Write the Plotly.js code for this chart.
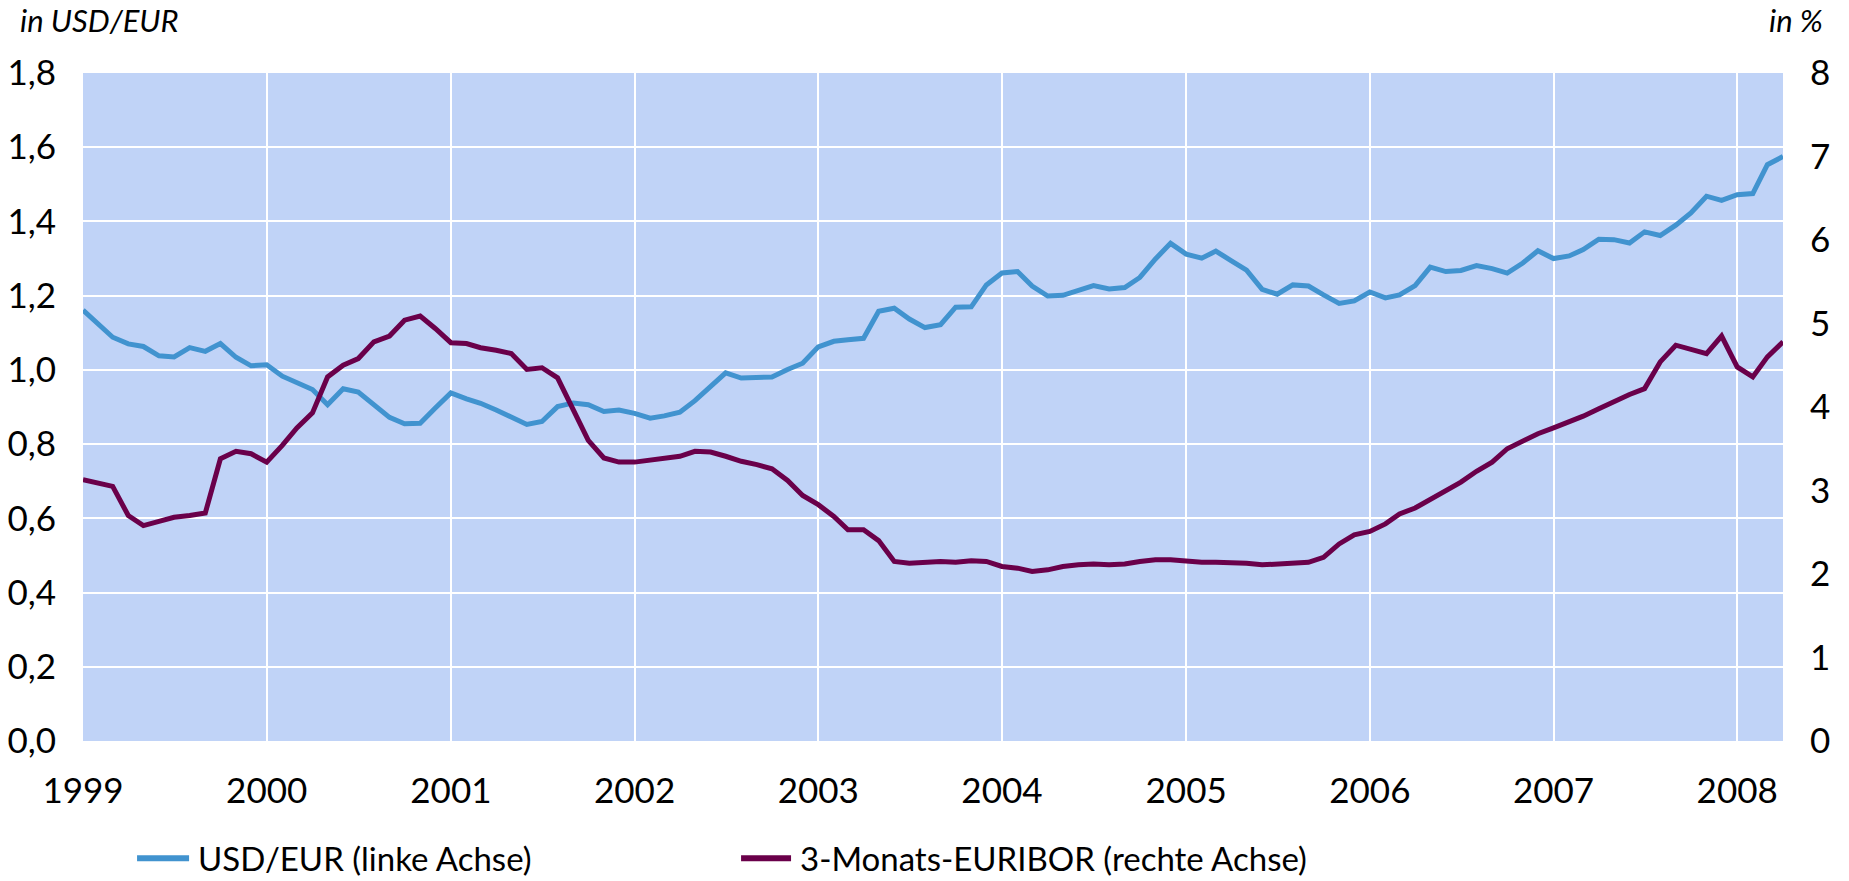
<!DOCTYPE html>
<html>
<head>
<meta charset="utf-8">
<script src="https://cdn.plot.ly/plotly-3.0.1.min.js"></script>
<style>
html,body{margin:0;padding:0;background:#fff;}
#chart{width:1849px;height:881px;}
</style>
</head>
<body>
<div id="chart"></div>
<script>
// Monthly observations, Jan 1999 – Apr 2008
const months = [];
for (let y = 1999; y <= 2008; y++) {
  for (let m = 1; m <= 12; m++) {
    if (y === 2008 && m > 4) break;
    months.push(y + '-' + String(m).padStart(2, '0') + '-01');
  }
}

const usdEur = [
  1.161, 1.121, 1.088, 1.070, 1.063, 1.038, 1.035, 1.060, 1.050, 1.071, 1.034, 1.011,
  1.014, 0.983, 0.964, 0.947, 0.906, 0.949, 0.940, 0.904, 0.872, 0.855, 0.856, 0.897,
  0.938, 0.922, 0.910, 0.892, 0.874, 0.853, 0.861, 0.901, 0.911, 0.906, 0.888, 0.892,
  0.883, 0.870, 0.876, 0.886, 0.917, 0.955, 0.992, 0.978, 0.981, 0.981, 1.001, 1.018,
  1.062, 1.077, 1.081, 1.085, 1.158, 1.166, 1.137, 1.114, 1.122, 1.169, 1.170, 1.229,
  1.261, 1.265, 1.226, 1.199, 1.201, 1.214, 1.227, 1.218, 1.222, 1.249, 1.299, 1.341,
  1.312, 1.301, 1.320, 1.294, 1.269, 1.217, 1.204, 1.229, 1.226, 1.202, 1.179, 1.186,
  1.210, 1.194, 1.202, 1.227, 1.277, 1.265, 1.268, 1.281, 1.273, 1.261, 1.288, 1.321,
  1.300, 1.307, 1.324, 1.352, 1.351, 1.342, 1.372, 1.362, 1.390, 1.423, 1.468, 1.457,
  1.472, 1.475, 1.553, 1.575
];

const euribor3m = [
  3.13, 3.09, 3.05, 2.70, 2.58, 2.63, 2.68, 2.70, 2.73, 3.38, 3.47, 3.44,
  3.34, 3.54, 3.75, 3.93, 4.36, 4.50, 4.58, 4.78, 4.85, 5.04, 5.09, 4.94,
  4.77, 4.76, 4.71, 4.68, 4.64, 4.45, 4.47, 4.35, 3.98, 3.60, 3.39, 3.34,
  3.34, 3.36, 3.39, 3.41, 3.47, 3.46, 3.41, 3.35, 3.31, 3.26, 3.12, 2.94,
  2.83, 2.69, 2.53, 2.53, 2.40, 2.15, 2.13, 2.14, 2.15, 2.14, 2.16, 2.15,
  2.09, 2.07, 2.03, 2.05, 2.09, 2.11, 2.12, 2.11, 2.12, 2.15, 2.17, 2.17,
  2.15, 2.14, 2.14, 2.14, 2.13, 2.11, 2.12, 2.13, 2.14, 2.20, 2.36, 2.47,
  2.51, 2.60, 2.72, 2.79, 2.89, 2.99, 3.10, 3.23, 3.34, 3.50, 3.60, 3.68,
  3.75, 3.82, 3.89, 3.98, 4.07, 4.15, 4.22, 4.54, 4.74, 4.69, 4.64, 4.85,
  4.48, 4.36, 4.60, 4.78
];

const seriesNames = ['USD/EUR (linke Achse)', '3-Monats-EURIBOR (rechte Achse)'];
const seriesColors = ['#4193CF', '#6A004A'];
const leftAxisLabel = 'in USD/EUR';
const rightAxisLabel = 'in %';

const FONT = 'Lato, "Open Sans", sans-serif';
const FS = 35;
const LEG_FS = 33;

const traces = [
  {
    x: months, y: usdEur, name: seriesNames[0], type: 'scatter', mode: 'lines',
    line: {color: seriesColors[0], width: 5}, yaxis: 'y'
  },
  {
    x: months, y: euribor3m, name: seriesNames[1], type: 'scatter', mode: 'lines',
    line: {color: seriesColors[1], width: 5}, yaxis: 'y2'
  }
];

// legend drawn below the plot (paper coordinates)
const legY = -0.1755;
const legItems = [
  {x0: 0.0318, x1: 0.0624, tx: 0.0671},
  {x0: 0.3871, x1: 0.4165, tx: 0.4212}
];
const shapes = legItems.map((it, i) => ({
  type: 'line', xref: 'paper', yref: 'paper',
  x0: it.x0, x1: it.x1, y0: legY, y1: legY,
  line: {color: seriesColors[i], width: 6}
}));
const legendAnn = legItems.map((it, i) => ({
  text: seriesNames[i], xref: 'paper', yref: 'paper', x: it.tx, y: legY,
  xanchor: 'left', yanchor: 'middle', showarrow: false, borderpad: 0,
  font: {family: FONT, size: LEG_FS, color: '#000'}
}));

const layout = {
  width: 1849, height: 881,
  margin: {l: 83, r: 66, t: 73, b: 140},
  paper_bgcolor: '#ffffff',
  plot_bgcolor: '#C0D3F7',
  separators: ', ',
  font: {family: FONT, size: FS, color: '#000'},
  showlegend: false,
  xaxis: {
    type: 'date',
    range: ['1999-01-01', '2008-04-01'],
    dtick: 'M12', tick0: '1999-01-01', tickformat: '%Y',
    showgrid: true, gridcolor: '#ffffff', gridwidth: 2,
    zeroline: false, showline: false,
    ticks: '', ticklabelstandoff: 26,
    tickfont: {family: FONT, size: FS, color: '#000'}
  },
  yaxis: {
    range: [0, 1.8], dtick: 0.2, tickformat: '.1f',
    showgrid: true, gridcolor: '#ffffff', gridwidth: 2,
    zeroline: false, showline: false, ticks: '',
    ticklabelstandoff: 26,
    tickfont: {family: FONT, size: FS, color: '#000'}
  },
  yaxis2: {
    range: [0, 8], dtick: 1, overlaying: 'y', side: 'right',
    showgrid: false, zeroline: false, showline: false, ticks: '',
    ticklabelstandoff: 26,
    tickfont: {family: FONT, size: FS, color: '#000'}
  },
  shapes: shapes,
  annotations: [
    {text: leftAxisLabel, xref: 'paper', yref: 'paper', x: -0.038, y: 1.079,
     xanchor: 'left', yanchor: 'middle', showarrow: false,
     font: {family: FONT, size: 31, color: '#000', style: 'italic'}},
    {text: rightAxisLabel, xref: 'paper', yref: 'paper', x: 1.0247, y: 1.079,
     xanchor: 'right', yanchor: 'middle', showarrow: false,
     font: {family: FONT, size: 31, color: '#000', style: 'italic'}}
  ].concat(legendAnn)
};

Plotly.newPlot('chart', traces, layout, {displayModeBar: false, staticPlot: true});
</script>
</body>
</html>
